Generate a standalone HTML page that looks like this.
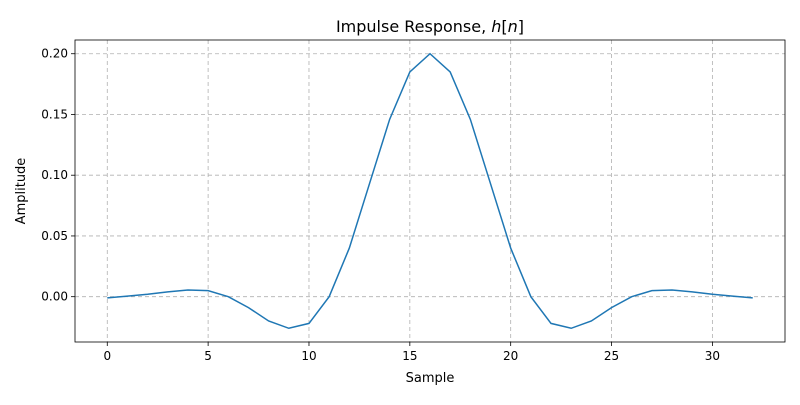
<!DOCTYPE html>
<html><head><meta charset="utf-8"><style>
body{margin:0;background:#fff;font-family:"Liberation Sans","DejaVu Sans",sans-serif}
svg text{font-family:"DejaVu Sans","Liberation Sans",sans-serif}
</style></head><body>
<svg id="chart" width="800" height="400" xmlns="http://www.w3.org/2000/svg">
<rect width="800" height="400" fill="#fff"/>
<g id="grid"></g>
<g id="ticks"></g>
<path id="line" fill="none" stroke="#1f77b4" stroke-width="1.5"/>
<rect x="75" y="40" width="710" height="302" fill="none" stroke="#000" stroke-width="0.8"/>
<text x="430" y="32" font-size="16" text-anchor="middle">Impulse Response, <tspan font-style="italic">h</tspan>[<tspan font-style="italic">n</tspan>]</text>
<text x="430" y="382" font-size="13" text-anchor="middle">Sample</text>
<text x="25" y="191" font-size="13" text-anchor="middle" transform="rotate(-90 25 191)">Amplitude</text>
</svg>
<script>
const values = [-0.001,0.0005,0.002,0.004,0.0055,0.005,0.0,-0.009,-0.020,-0.026,-0.022,0.0,0.040,0.093,0.146,0.185,0.200,0.185,0.146,0.093,0.040,0.0,-0.022,-0.026,-0.020,-0.009,0.0,0.005,0.0055,0.004,0.002,0.0005,-0.001];
const xTicks = [0,5,10,15,20,25,30];
const yTicks = [0.00,0.05,0.10,0.15,0.20];
const yTickLabels = ["0.00","0.05","0.10","0.15","0.20"];
const L=75,R=785,T=40,B=342;
const n=values.length;
const xmin=-0.05*(n-1), xmax=(n-1)*1.05;
const vmin=Math.min(...values), vmax=Math.max(...values), m=(vmax-vmin)*0.05;
const ymin=vmin-m, ymax=vmax+m;
const sx=v=>L+(v-xmin)/(xmax-xmin)*(R-L);
const sy=v=>B-(v-ymin)/(ymax-ymin)*(B-T);
const NS="http://www.w3.org/2000/svg";
const grid=document.getElementById('grid'), ticks=document.getElementById('ticks');
function mk(tag,attrs,parent){const e=document.createElementNS(NS,tag);for(const k in attrs)e.setAttribute(k,attrs[k]);parent.appendChild(e);return e;}
xTicks.forEach(t=>{const x=sx(t);
 const g=mk('line',{x1:x,x2:x,y1:T,y2:B,stroke:'#b0b0b0','stroke-width':0.8,'stroke-dasharray':'4,3'},grid);
 
 
 mk('line',{x1:x,x2:x,y1:B,y2:B+4,stroke:'#000','stroke-width':0.8},ticks);
 const tx=mk('text',{x:x,y:B+18,'font-size':12,'text-anchor':'middle'},ticks);tx.textContent=t;
 
 });
yTicks.forEach((t,i)=>{const y=sy(t);
 const g=mk('line',{x1:L,x2:R,y1:y,y2:y,stroke:'#b0b0b0','stroke-width':0.8,'stroke-dasharray':'4,3'},grid);
 
 
 mk('line',{x1:L-4,x2:L,y1:y,y2:y,stroke:'#000','stroke-width':0.8},ticks);
 const tx=mk('text',{x:L-7,y:y+4,'font-size':12,'text-anchor':'end'},ticks);tx.textContent=yTickLabels[i];
 
 });
document.getElementById('line').setAttribute('d',values.map((v,i)=>(i?'L':'M')+sx(i).toFixed(2)+','+sy(v).toFixed(2)).join(''));
</script>
</body></html>
